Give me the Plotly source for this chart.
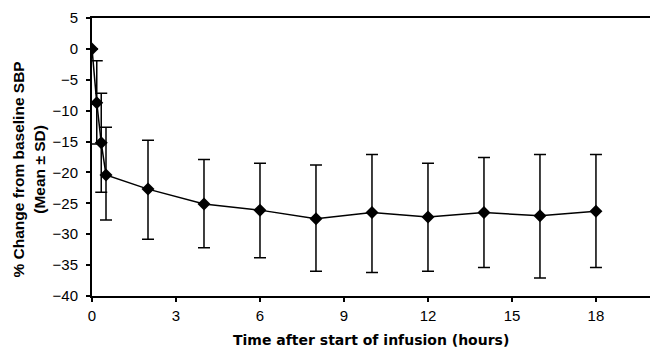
import plotly.graph_objects as go

time_h = [0, 0.17, 0.33, 0.5, 2, 4, 6, 8, 10, 12, 14, 16, 18]
mean_change = [0, -8.7, -15.2, -20.4, -22.7, -25.1, -26.1, -27.5, -26.5, -27.2, -26.5, -27.0, -26.3]
upper = [0, -1.9, -7.2, -12.7, -14.8, -17.9, -18.5, -18.8, -17.1, -18.5, -17.6, -17.1, -17.1]
lower = [0, -15.4, -23.2, -27.7, -30.8, -32.2, -33.8, -36.0, -36.2, -36.0, -35.4, -37.1, -35.4]

err_plus = [u - m for u, m in zip(upper, mean_change)]
err_minus = [m - l for m, l in zip(mean_change, lower)]

x_ticks = [0, 3, 6, 9, 12, 15, 18]
y_ticks = [5, 0, -5, -10, -15, -20, -25, -30, -35, -40]

FONT = "Liberation Sans"

fig = go.Figure()
fig.add_trace(go.Scatter(
    x=time_h, y=mean_change, mode="lines+markers",
    line=dict(color="black", width=1.5),
    marker=dict(symbol="diamond", size=10, color="black"),
    error_y=dict(type="data", symmetric=False, array=err_plus, arrayminus=err_minus,
                 color="black", thickness=1.5, width=6),
    showlegend=False,
))

fig.update_layout(
    width=650, height=358,
    margin=dict(l=92, r=0, t=18, b=62),
    paper_bgcolor="white", plot_bgcolor="white",
    font=dict(family=FONT, size=15, color="black"),
    xaxis=dict(range=[0, 19.93], tickvals=x_ticks, ticks="outside", ticklen=4,
               tickwidth=1.5, tickcolor="black", showline=True, linecolor="black",
               linewidth=2, mirror=True, showgrid=False, zeroline=False,
               ticklabelstandoff=1, tickfont=dict(family=FONT, size=15)),
    yaxis=dict(range=[-40, 5], tickvals=y_ticks, ticks="outside", ticklen=4,
               tickwidth=1.5, tickcolor="black", showline=True, linecolor="black",
               linewidth=2, showgrid=False, zeroline=False,
               ticklabelstandoff=5, tickfont=dict(family=FONT, size=15)),
    annotations=[
        dict(text="<b>Time after start of infusion (hours)</b>", xref="paper", yref="paper",
             x=0.5, y=0, yshift=-44, showarrow=False, xanchor="center", yanchor="middle",
             font=dict(family="DejaVu Sans", size=14)),
        dict(text="<b>% Change from baseline SBP<br>(Mean ± SD)</b>", xref="paper", yref="paper",
             x=0, xshift=-63, y=0.455, showarrow=False, textangle=-90,
             xanchor="center", yanchor="middle",
             font=dict(family=FONT, size=15.5)),
    ],
)

fig.write_html("out.html", config={"displayModeBar": False},
               post_script="document.body.style.margin='0';")
